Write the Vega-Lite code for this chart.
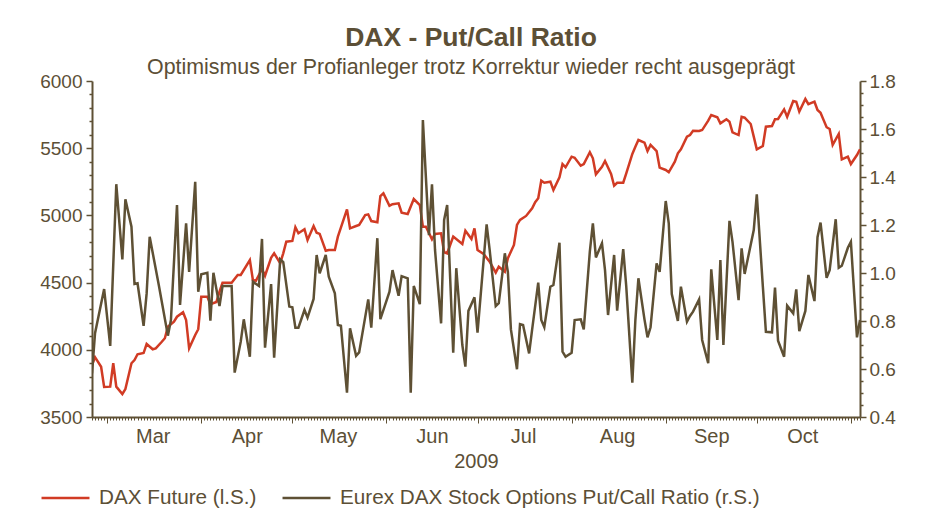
{
  "$schema": "https://vega.github.io/schema/vega-lite/v6.json",
  "width": 768,
  "height": 336,
  "autosize": {"type": "none"},
  "padding": {"left": 92, "top": 81, "right": 70, "bottom": 108},
  "background": "#ffffff",
  "title": {
    "text": "DAX - Put/Call Ratio",
    "subtitle": "Optimismus der Profianleger trotz Korrektur wieder recht ausgeprägt",
    "anchor": "middle",
    "frame": "group",
    "dx": -5,
    "offset": -6,
    "font": "Liberation Sans",
    "fontSize": 26.5,
    "fontWeight": "bold",
    "color": "#5c4f36",
    "subtitleFont": "Liberation Sans",
    "subtitleFontSize": 21.4,
    "subtitleColor": "#5c4f36",
    "subtitlePadding": 5
  },
  "config": {
    "view": {"stroke": null},
    "axis": {
      "labelFont": "Liberation Sans",
      "labelFontSize": 19,
      "labelColor": "#5c4f36",
      "domainColor": "#5e5034",
      "domainWidth": 2,
      "tickColor": "#5e5034",
      "tickWidth": 1.5,
      "grid": false
    },
    "legend": {
      "labelFont": "Liberation Sans",
      "labelFontSize": 20.7,
      "labelColor": "#5c4f36",
      "labelLimit": 0
    }
  },
  "datasets": {
    "dax": [
      {"date": "2009-02-24", "value": 3887}, {"date": "2009-02-25", "value": 3945}, {"date": "2009-02-27", "value": 3874}, {"date": "2009-02-28", "value": 3723},
      {"date": "2009-03-02", "value": 3726}, {"date": "2009-03-03", "value": 3900}, {"date": "2009-03-04", "value": 3726}, {"date": "2009-03-06", "value": 3671},
      {"date": "2009-03-07", "value": 3708}, {"date": "2009-03-09", "value": 3900}, {"date": "2009-03-10", "value": 3924}, {"date": "2009-03-11", "value": 3967},
      {"date": "2009-03-13", "value": 3976}, {"date": "2009-03-14", "value": 4043}, {"date": "2009-03-16", "value": 4004}, {"date": "2009-03-17", "value": 4011},
      {"date": "2009-03-19", "value": 4060}, {"date": "2009-03-20", "value": 4086}, {"date": "2009-03-21", "value": 4172}, {"date": "2009-03-23", "value": 4209},
      {"date": "2009-03-24", "value": 4246}, {"date": "2009-03-26", "value": 4279}, {"date": "2009-03-27", "value": 4222}, {"date": "2009-03-28", "value": 4011},
      {"date": "2009-03-30", "value": 4110}, {"date": "2009-03-31", "value": 4153}, {"date": "2009-04-01", "value": 4395}, {"date": "2009-04-03", "value": 4395},
      {"date": "2009-04-04", "value": 4339}, {"date": "2009-04-06", "value": 4356}, {"date": "2009-04-07", "value": 4432}, {"date": "2009-04-08", "value": 4499},
      {"date": "2009-04-11", "value": 4499}, {"date": "2009-04-13", "value": 4557}, {"date": "2009-04-14", "value": 4557}, {"date": "2009-04-17", "value": 4668},
      {"date": "2009-04-18", "value": 4519}, {"date": "2009-04-19", "value": 4514}, {"date": "2009-04-21", "value": 4601}, {"date": "2009-04-22", "value": 4551},
      {"date": "2009-04-24", "value": 4685}, {"date": "2009-04-25", "value": 4718}, {"date": "2009-04-27", "value": 4644}, {"date": "2009-04-28", "value": 4718},
      {"date": "2009-04-29", "value": 4804}, {"date": "2009-05-01", "value": 4810}, {"date": "2009-05-02", "value": 4912}, {"date": "2009-05-03", "value": 4867},
      {"date": "2009-05-05", "value": 4897}, {"date": "2009-05-06", "value": 4817}, {"date": "2009-05-08", "value": 4921}, {"date": "2009-05-09", "value": 4871},
      {"date": "2009-05-10", "value": 4862}, {"date": "2009-05-12", "value": 4737}, {"date": "2009-05-13", "value": 4743}, {"date": "2009-05-15", "value": 4743},
      {"date": "2009-05-16", "value": 4842}, {"date": "2009-05-19", "value": 5045}, {"date": "2009-05-20", "value": 4904}, {"date": "2009-05-22", "value": 4921},
      {"date": "2009-05-23", "value": 4929}, {"date": "2009-05-25", "value": 5003}, {"date": "2009-05-26", "value": 5008}, {"date": "2009-05-27", "value": 4958},
      {"date": "2009-05-29", "value": 4949}, {"date": "2009-05-30", "value": 5144}, {"date": "2009-05-31", "value": 5164}, {"date": "2009-06-02", "value": 5072},
      {"date": "2009-06-03", "value": 5083}, {"date": "2009-06-05", "value": 5090}, {"date": "2009-06-06", "value": 5020}, {"date": "2009-06-08", "value": 5010},
      {"date": "2009-06-10", "value": 5122}, {"date": "2009-06-12", "value": 5077}, {"date": "2009-06-13", "value": 4916}, {"date": "2009-06-14", "value": 4916},
      {"date": "2009-06-16", "value": 4822}, {"date": "2009-06-17", "value": 4862}, {"date": "2009-06-19", "value": 4867}, {"date": "2009-06-20", "value": 4726},
      {"date": "2009-06-21", "value": 4718}, {"date": "2009-06-23", "value": 4842}, {"date": "2009-06-26", "value": 4787}, {"date": "2009-06-27", "value": 4886},
      {"date": "2009-06-29", "value": 4824}, {"date": "2009-06-30", "value": 4904}, {"date": "2009-07-01", "value": 4743}, {"date": "2009-07-03", "value": 4713},
      {"date": "2009-07-05", "value": 4656}, {"date": "2009-07-07", "value": 4574}, {"date": "2009-07-08", "value": 4618}, {"date": "2009-07-10", "value": 4581},
      {"date": "2009-07-11", "value": 4681}, {"date": "2009-07-13", "value": 4780}, {"date": "2009-07-14", "value": 4929}, {"date": "2009-07-15", "value": 4966},
      {"date": "2009-07-17", "value": 4996}, {"date": "2009-07-19", "value": 5053}, {"date": "2009-07-20", "value": 5098}, {"date": "2009-07-21", "value": 5127},
      {"date": "2009-07-22", "value": 5258}, {"date": "2009-07-23", "value": 5243}, {"date": "2009-07-25", "value": 5251}, {"date": "2009-07-26", "value": 5189},
      {"date": "2009-07-28", "value": 5284}, {"date": "2009-07-29", "value": 5382}, {"date": "2009-07-30", "value": 5358}, {"date": "2009-08-01", "value": 5437},
      {"date": "2009-08-02", "value": 5429}, {"date": "2009-08-04", "value": 5370}, {"date": "2009-08-05", "value": 5382}, {"date": "2009-08-07", "value": 5470},
      {"date": "2009-08-08", "value": 5425}, {"date": "2009-08-09", "value": 5306}, {"date": "2009-08-11", "value": 5362}, {"date": "2009-08-12", "value": 5405},
      {"date": "2009-08-14", "value": 5308}, {"date": "2009-08-15", "value": 5221}, {"date": "2009-08-16", "value": 5243}, {"date": "2009-08-18", "value": 5243},
      {"date": "2009-08-19", "value": 5313}, {"date": "2009-08-21", "value": 5457}, {"date": "2009-08-22", "value": 5511}, {"date": "2009-08-23", "value": 5561},
      {"date": "2009-08-25", "value": 5541}, {"date": "2009-08-26", "value": 5479}, {"date": "2009-08-27", "value": 5524}, {"date": "2009-08-29", "value": 5479},
      {"date": "2009-08-30", "value": 5355}, {"date": "2009-09-01", "value": 5338}, {"date": "2009-09-02", "value": 5321}, {"date": "2009-09-04", "value": 5400},
      {"date": "2009-09-05", "value": 5462}, {"date": "2009-09-06", "value": 5492}, {"date": "2009-09-08", "value": 5586}, {"date": "2009-09-09", "value": 5598},
      {"date": "2009-09-10", "value": 5630}, {"date": "2009-09-12", "value": 5628}, {"date": "2009-09-13", "value": 5635}, {"date": "2009-09-15", "value": 5705},
      {"date": "2009-09-16", "value": 5747}, {"date": "2009-09-18", "value": 5730}, {"date": "2009-09-19", "value": 5685}, {"date": "2009-09-21", "value": 5715},
      {"date": "2009-09-22", "value": 5697}, {"date": "2009-09-23", "value": 5618}, {"date": "2009-09-25", "value": 5598}, {"date": "2009-09-26", "value": 5734},
      {"date": "2009-09-27", "value": 5727}, {"date": "2009-09-29", "value": 5680}, {"date": "2009-09-30", "value": 5586}, {"date": "2009-10-01", "value": 5492},
      {"date": "2009-10-03", "value": 5516}, {"date": "2009-10-04", "value": 5660}, {"date": "2009-10-06", "value": 5665}, {"date": "2009-10-07", "value": 5715},
      {"date": "2009-10-08", "value": 5717}, {"date": "2009-10-10", "value": 5789}, {"date": "2009-10-11", "value": 5734}, {"date": "2009-10-13", "value": 5851},
      {"date": "2009-10-14", "value": 5846}, {"date": "2009-10-15", "value": 5772}, {"date": "2009-10-17", "value": 5866}, {"date": "2009-10-18", "value": 5827},
      {"date": "2009-10-20", "value": 5846}, {"date": "2009-10-21", "value": 5784}, {"date": "2009-10-22", "value": 5764}, {"date": "2009-10-24", "value": 5656},
      {"date": "2009-10-25", "value": 5643}, {"date": "2009-10-26", "value": 5524}, {"date": "2009-10-28", "value": 5606}, {"date": "2009-10-29", "value": 5417},
      {"date": "2009-10-31", "value": 5437}, {"date": "2009-11-01", "value": 5382}, {"date": "2009-11-03", "value": 5449}, {"date": "2009-11-04", "value": 5492}
    ],
    "pcr": [
      {"date": "2009-02-24", "value": 0.582}, {"date": "2009-02-25", "value": 0.749}, {"date": "2009-02-28", "value": 0.933}, {"date": "2009-03-02", "value": 0.696},
      {"date": "2009-03-04", "value": 1.370}, {"date": "2009-03-06", "value": 1.057}, {"date": "2009-03-07", "value": 1.307}, {"date": "2009-03-09", "value": 1.193},
      {"date": "2009-03-10", "value": 0.954}, {"date": "2009-03-11", "value": 0.957}, {"date": "2009-03-13", "value": 0.780}, {"date": "2009-03-14", "value": 0.915},
      {"date": "2009-03-15", "value": 1.151}, {"date": "2009-03-18", "value": 0.950}, {"date": "2009-03-21", "value": 0.739}, {"date": "2009-03-22", "value": 0.804},
      {"date": "2009-03-24", "value": 1.283}, {"date": "2009-03-25", "value": 0.867}, {"date": "2009-03-27", "value": 1.207}, {"date": "2009-03-28", "value": 1.005},
      {"date": "2009-03-30", "value": 1.380}, {"date": "2009-03-31", "value": 0.922}, {"date": "2009-04-01", "value": 0.995}, {"date": "2009-04-03", "value": 1.001},
      {"date": "2009-04-04", "value": 0.801}, {"date": "2009-04-05", "value": 1.001}, {"date": "2009-04-07", "value": 0.862}, {"date": "2009-04-08", "value": 0.946},
      {"date": "2009-04-11", "value": 0.946}, {"date": "2009-04-12", "value": 0.585}, {"date": "2009-04-14", "value": 0.714}, {"date": "2009-04-15", "value": 0.807},
      {"date": "2009-04-17", "value": 0.651}, {"date": "2009-04-18", "value": 0.964}, {"date": "2009-04-20", "value": 0.946}, {"date": "2009-04-21", "value": 1.142},
      {"date": "2009-04-22", "value": 0.689}, {"date": "2009-04-24", "value": 0.954}, {"date": "2009-04-25", "value": 0.647}, {"date": "2009-04-27", "value": 1.057},
      {"date": "2009-04-28", "value": 1.045}, {"date": "2009-04-30", "value": 0.860}, {"date": "2009-05-01", "value": 0.857}, {"date": "2009-05-02", "value": 0.772},
      {"date": "2009-05-03", "value": 0.772}, {"date": "2009-05-05", "value": 0.846}, {"date": "2009-05-06", "value": 0.814}, {"date": "2009-05-08", "value": 0.892},
      {"date": "2009-05-09", "value": 1.075}, {"date": "2009-05-10", "value": 0.999}, {"date": "2009-05-12", "value": 1.075}, {"date": "2009-05-13", "value": 0.985},
      {"date": "2009-05-15", "value": 0.915}, {"date": "2009-05-16", "value": 0.783}, {"date": "2009-05-17", "value": 0.780}, {"date": "2009-05-19", "value": 0.501},
      {"date": "2009-05-20", "value": 0.770}, {"date": "2009-05-22", "value": 0.655}, {"date": "2009-05-23", "value": 0.669}, {"date": "2009-05-26", "value": 0.890},
      {"date": "2009-05-27", "value": 0.772}, {"date": "2009-05-29", "value": 1.145}, {"date": "2009-05-30", "value": 0.808}, {"date": "2009-06-02", "value": 0.922},
      {"date": "2009-06-03", "value": 1.012}, {"date": "2009-06-05", "value": 0.905}, {"date": "2009-06-06", "value": 0.987}, {"date": "2009-06-08", "value": 0.978},
      {"date": "2009-06-09", "value": 0.501}, {"date": "2009-06-10", "value": 0.946}, {"date": "2009-06-12", "value": 0.870}, {"date": "2009-06-13", "value": 1.637},
      {"date": "2009-06-15", "value": 1.158}, {"date": "2009-06-16", "value": 1.370}, {"date": "2009-06-17", "value": 1.096}, {"date": "2009-06-19", "value": 0.790},
      {"date": "2009-06-20", "value": 1.221}, {"date": "2009-06-21", "value": 1.283}, {"date": "2009-06-23", "value": 0.668}, {"date": "2009-06-24", "value": 1.020},
      {"date": "2009-06-26", "value": 0.700}, {"date": "2009-06-27", "value": 0.610}, {"date": "2009-06-28", "value": 0.842}, {"date": "2009-06-30", "value": 0.899},
      {"date": "2009-07-01", "value": 0.751}, {"date": "2009-07-04", "value": 1.203}, {"date": "2009-07-05", "value": 1.096}, {"date": "2009-07-07", "value": 0.862},
      {"date": "2009-07-08", "value": 0.874}, {"date": "2009-07-10", "value": 1.082}, {"date": "2009-07-11", "value": 1.005}, {"date": "2009-07-12", "value": 0.765},
      {"date": "2009-07-14", "value": 0.599}, {"date": "2009-07-15", "value": 0.787}, {"date": "2009-07-16", "value": 0.783}, {"date": "2009-07-18", "value": 0.665},
      {"date": "2009-07-19", "value": 0.765}, {"date": "2009-07-21", "value": 0.960}, {"date": "2009-07-22", "value": 0.804}, {"date": "2009-07-23", "value": 0.774},
      {"date": "2009-07-25", "value": 0.943}, {"date": "2009-07-26", "value": 0.950}, {"date": "2009-07-28", "value": 1.126}, {"date": "2009-07-29", "value": 0.672},
      {"date": "2009-07-30", "value": 0.651}, {"date": "2009-08-01", "value": 0.668}, {"date": "2009-08-02", "value": 0.804}, {"date": "2009-08-04", "value": 0.807},
      {"date": "2009-08-05", "value": 0.765}, {"date": "2009-08-07", "value": 1.089}, {"date": "2009-08-08", "value": 1.207}, {"date": "2009-08-09", "value": 1.065},
      {"date": "2009-08-11", "value": 1.124}, {"date": "2009-08-12", "value": 1.012}, {"date": "2009-08-13", "value": 0.825}, {"date": "2009-08-15", "value": 1.075},
      {"date": "2009-08-16", "value": 0.843}, {"date": "2009-08-18", "value": 1.100}, {"date": "2009-08-19", "value": 0.943}, {"date": "2009-08-21", "value": 0.543},
      {"date": "2009-08-22", "value": 0.804}, {"date": "2009-08-23", "value": 0.978}, {"date": "2009-08-25", "value": 0.807}, {"date": "2009-08-26", "value": 0.732},
      {"date": "2009-08-27", "value": 0.774}, {"date": "2009-08-29", "value": 1.040}, {"date": "2009-08-30", "value": 1.005}, {"date": "2009-09-01", "value": 1.300},
      {"date": "2009-09-02", "value": 1.207}, {"date": "2009-09-03", "value": 0.912}, {"date": "2009-09-05", "value": 0.800}, {"date": "2009-09-06", "value": 0.943},
      {"date": "2009-09-08", "value": 0.797}, {"date": "2009-09-09", "value": 0.821}, {"date": "2009-09-10", "value": 0.839}, {"date": "2009-09-12", "value": 0.890},
      {"date": "2009-09-13", "value": 0.721}, {"date": "2009-09-15", "value": 0.624}, {"date": "2009-09-16", "value": 1.015}, {"date": "2009-09-18", "value": 0.721},
      {"date": "2009-09-19", "value": 1.054}, {"date": "2009-09-20", "value": 0.700}, {"date": "2009-09-22", "value": 1.217}, {"date": "2009-09-23", "value": 1.130},
      {"date": "2009-09-25", "value": 0.887}, {"date": "2009-09-26", "value": 1.103}, {"date": "2009-09-27", "value": 0.996}, {"date": "2009-09-30", "value": 1.179},
      {"date": "2009-10-01", "value": 1.328}, {"date": "2009-10-03", "value": 0.943}, {"date": "2009-10-04", "value": 0.755}, {"date": "2009-10-06", "value": 0.753},
      {"date": "2009-10-07", "value": 0.939}, {"date": "2009-10-08", "value": 0.718}, {"date": "2009-10-10", "value": 0.651}, {"date": "2009-10-11", "value": 0.864},
      {"date": "2009-10-13", "value": 0.832}, {"date": "2009-10-14", "value": 0.932}, {"date": "2009-10-15", "value": 0.758}, {"date": "2009-10-17", "value": 0.842},
      {"date": "2009-10-18", "value": 0.992}, {"date": "2009-10-20", "value": 0.883}, {"date": "2009-10-21", "value": 1.149}, {"date": "2009-10-22", "value": 1.210},
      {"date": "2009-10-24", "value": 0.980}, {"date": "2009-10-25", "value": 1.012}, {"date": "2009-10-27", "value": 1.224}, {"date": "2009-10-28", "value": 1.022},
      {"date": "2009-10-29", "value": 1.030}, {"date": "2009-10-31", "value": 1.105}, {"date": "2009-11-01", "value": 1.130}, {"date": "2009-11-03", "value": 0.732},
      {"date": "2009-11-04", "value": 0.804}
    ]
  },
  "layer": [
    {
      "data": {"name": "dax"},
      "mark": {"type": "line", "strokeWidth": 2.5, "clip": true},
      "encoding": {
        "x": {
          "field": "date",
          "type": "temporal",
          "scale": {"type": "utc", "domain": ["2009-02-24", "2009-11-04"]},
          "axis": {
            "tickCount": {"interval": "day", "step": 1},
            "labelExpr": "utcdate(datum.value) == 16 ? utcFormat(datum.value, '%b') : ''",
            "labelOverlap": false,
            "labelFlush": false,
            "labelBound": false,
            "labelFontSize": 20,
            "labelPadding": 6,
            "tickSize": {"condition": {"test": "utcdate(datum.value) == 1", "value": 6}, "value": 3},
            "tickWidth": 1,
            "title": "2009",
            "titleFont": "Liberation Sans",
            "titleFontSize": 20,
            "titleFontWeight": "normal",
            "titleColor": "#5c4f36",
            "titlePadding": 2
          }
        },
        "y": {
          "field": "value",
          "type": "quantitative",
          "scale": {"domain": [3500, 6000], "zero": false, "nice": false},
          "axis": {
            "orient": "left",
            "title": null,
            "values": [3500, 3600, 3700, 3800, 3900, 4000, 4100, 4200, 4300, 4400, 4500, 4600, 4700, 4800, 4900, 5000, 5100, 5200, 5300, 5400, 5500, 5600, 5700, 5800, 5900, 6000],
            "format": "d",
            "labelExpr": "datum.value % 500 == 0 ? datum.label : ''",
            "tickSize": {"condition": {"test": "datum.value % 500 == 0", "value": 6}, "value": 3},
            "labelPadding": 4
          }
        },
        "color": {
          "datum": "DAX Future (l.S.)",
          "type": "nominal",
          "scale": {
            "domain": ["DAX Future (l.S.)", "Eurex DAX Stock Options Put/Call Ratio (r.S.)"],
            "range": ["#d13b24", "#5e5034"]
          },
          "legend": {
            "title": null,
            "orient": "none",
            "legendX": -52,
            "legendY": 391,
            "direction": "horizontal",
            "columns": 2,
            "columnPadding": 20,
            "padding": 0,
            "symbolType": "stroke",
            "symbolSize": 2300,
            "symbolStrokeWidth": 2.5,
            "labelOffset": 8
          }
        }
      }
    },
    {
      "data": {"name": "pcr"},
      "mark": {"type": "line", "strokeWidth": 2.5, "clip": true},
      "encoding": {
        "x": {"field": "date", "type": "temporal"},
        "y": {
          "field": "value",
          "type": "quantitative",
          "scale": {"domain": [0.4, 1.8], "zero": false, "nice": false},
          "axis": {
            "orient": "right",
            "title": null,
            "values": [0.4, 0.45, 0.5, 0.55, 0.6, 0.65, 0.7, 0.75, 0.8, 0.85, 0.9, 0.95, 1.0, 1.05, 1.1, 1.15, 1.2, 1.25, 1.3, 1.35, 1.4, 1.45, 1.5, 1.55, 1.6, 1.65, 1.7, 1.75, 1.8],
            "format": ".1f",
            "labelExpr": "abs(datum.value * 5 - round(datum.value * 5)) < 0.01 ? datum.label : ''",
            "tickSize": {"condition": {"test": "abs(datum.value * 5 - round(datum.value * 5)) < 0.01", "value": 6}, "value": 3},
            "labelPadding": 3
          }
        },
        "color": {"datum": "Eurex DAX Stock Options Put/Call Ratio (r.S.)", "type": "nominal"}
      }
    }
  ],
  "resolve": {"scale": {"y": "independent"}}
}
